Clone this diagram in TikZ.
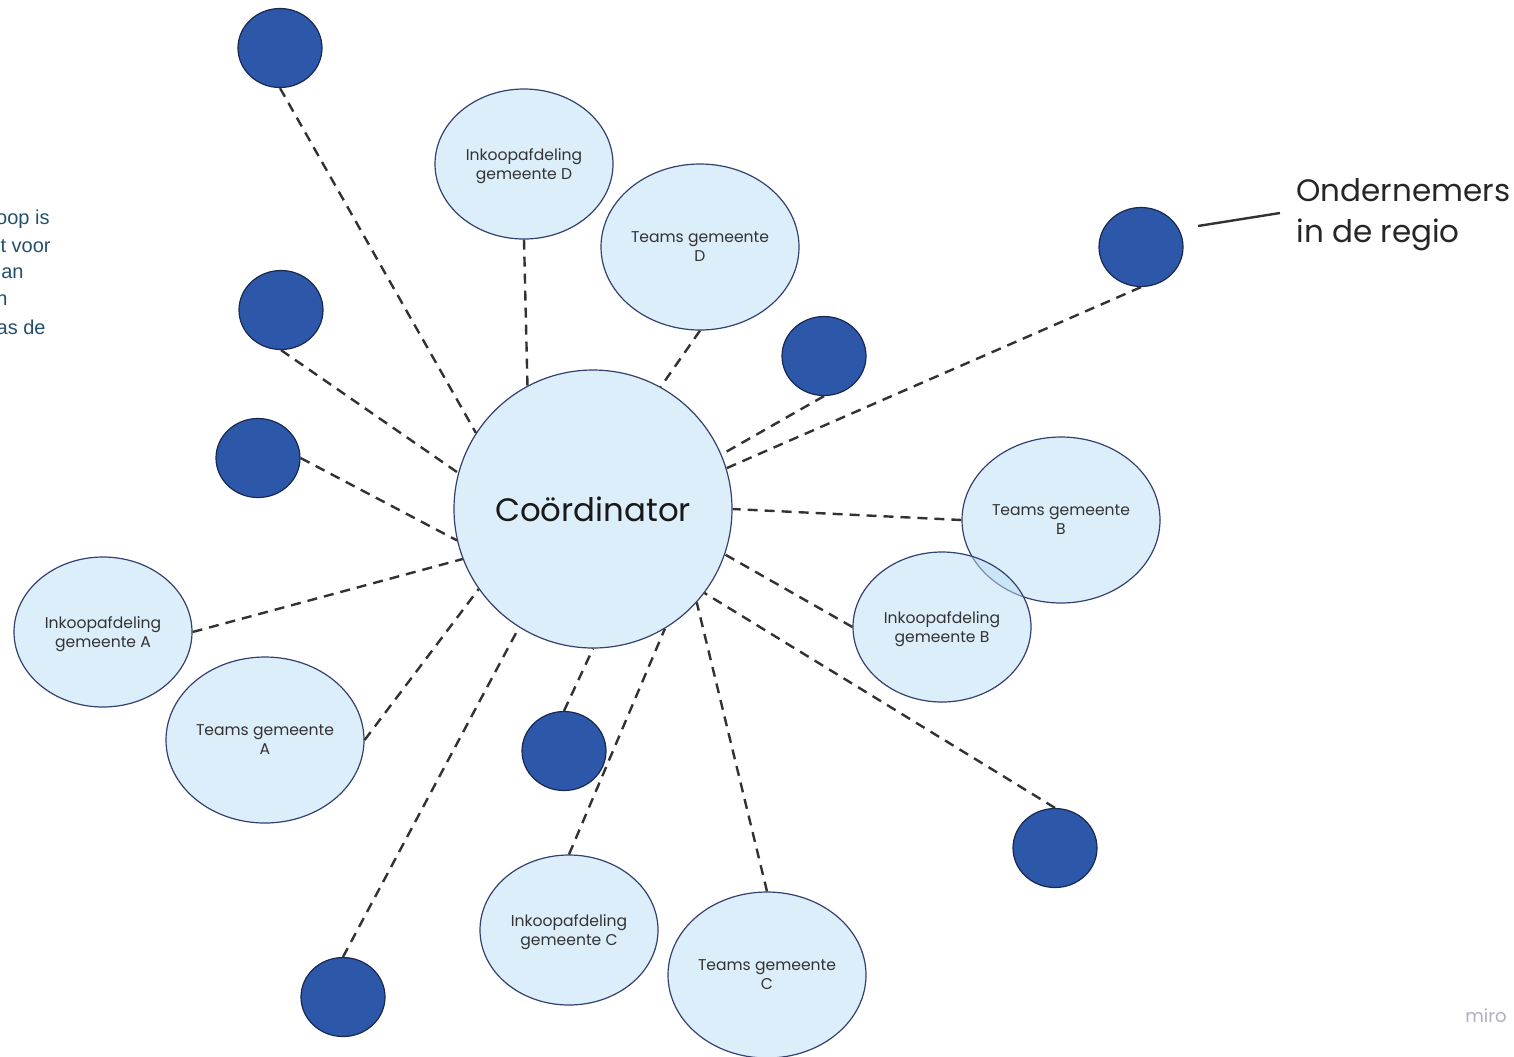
\documentclass[tikz,border=0pt]{standalone}
\usepackage{fontspec}
\setmainfont{Poppins}
\newfontfamily\notefont{Liberation Sans}
\usetikzlibrary{shapes.geometric}
\definecolor{bubblefill}{RGB}{185,221,243}
\definecolor{hubfill}{RGB}{220,238,249}
\definecolor{bubbleline}{RGB}{52,64,110}
\definecolor{dotfill}{RGB}{45,87,168}
\definecolor{dotline}{RGB}{25,40,80}
\definecolor{linkgray}{RGB}{50,50,50}
\definecolor{notecolor}{RGB}{36,80,110}
\definecolor{logogray}{RGB}{175,175,190}

\begin{document}
\begin{tikzpicture}[x=0.5pt, y=-0.5pt,
    bubble/.style={ellipse, draw=bubbleline, line width=0.6pt, fill=bubblefill,
        fill opacity=0.5, text opacity=1, inner sep=0pt, align=center,
        text=black!80, font=\fontsize{7.8}{9.5}\selectfont, text depth=-1pt},
    ink/.style={bubble, minimum width=89pt, minimum height=75pt},
    teams/.style={bubble, minimum width=99pt, minimum height=83pt},
    dot/.style={ellipse, draw=dotline, line width=0.6pt, fill=dotfill,
        minimum width=42pt, minimum height=39.5pt, inner sep=0pt},
    link/.style={dashed, dash pattern=on 5pt off 3.5pt, line width=1.2pt, draw=linkgray}]

    % Frame:
    \useasboundingbox (0,0) rectangle (1514,1056);
    \clip (0,0) rectangle (1514,1056);

    % Note at the left edge:
    \foreach \i/\x/\y/\t in {1/50/219/oop is, 2/51/246/t voor, 3/24/273/an,
                             4/8/300/n, 5/46/327/as de}
        \node[anchor=east, inner sep=0pt, text=notecolor,
              font=\notefont\fontsize{10}{13.5}\selectfont] (note-\i) at (\x,\y) {\t};

    % Centre:
    \node[bubble, circle, minimum size=139pt, fill=hubfill, fill opacity=1, text depth=0pt,
          text=black!90, font=\fontsize{16.2}{19}\selectfont] (hub) at (593,509) {Coördinator};

    % Departments and teams:
    \node[ink] (inkD) at (524,164) {Inkoopafdeling\\gemeente D};
    \node[teams] (teamsD) at (700,247) {Teams gemeente\\D};
    \node[teams] (teamsB) at (1061,520) {Teams gemeente\\B};
    \node[ink] (inkB) at (942,627) {Inkoopafdeling\\gemeente B};
    \node[ink] (inkA) at (103,632) {Inkoopafdeling\\gemeente A};
    \node[teams] (teamsA) at (265,740) {Teams gemeente\\A};
    \node[ink] (inkC) at (569,930) {Inkoopafdeling\\gemeente C};
    \node[teams] (teamsC) at (767,975) {Teams gemeente\\C};

    % Entrepreneurs:
    \node[dot] (dot1) at (280,48) {};
    \node[dot] (dot2) at (281,310) {};
    \node[dot] (dot3) at (258,458) {};
    \node[dot] (dot4) at (824,356) {};
    \node[dot] (dot5) at (1141,247) {};
    \node[dot] (dot6) at (564,751) {};
    \node[dot] (dot7) at (1055,848) {};
    \node[dot] (dot8) at (343,997) {};

    % Connections:
    \draw[link] (dot1.south) -- (hub.147);
    \draw[link] (inkD.south) -- (hub.118);
    \draw[link] (teamsD.south) -- (hub.61);
    \draw[link] (dot4.south) -- (hub.23);
    \draw[link] (dot5.south) -- (hub.17);
    \draw[link] (dot2.south) -- (hub.165);
    \draw[link] (dot3.east) -- (hub.193);
    \draw[link] (teamsB.west) -- (hub.0);
    \draw[link] (inkB.west) -- (hub.341);
    \draw[link] (dot7.north) -- (hub.323);
    \draw[link] (inkA.east) -- (hub.201);
    \draw[link] (teamsA.east) -- (hub.215);
    \draw[link] (dot8.north) -- (hub.238);
    \draw[link] (dot6.north) -- (hub.270);
    \draw[link] (inkC.north) -- (hub.301);
    \draw[link] (teamsC.north) -- (hub.318);

    % Label:
    \coordinate (tag) at (1280,213);
    \draw[line width=1.2pt, draw=linkgray] (1198,226) -- (tag);
    \node[anchor=west, align=left, inner sep=0pt, text=black!85,
          font=\fontsize{15.5}{20.5}\selectfont] (ondernemers) at (1296,215) {Ondernemers\\in de regio};

    % Logo:
    \node[text=logogray, font=\fontsize{9}{10}\selectfont] (logo) at (1486,1016) {miro};
\end{tikzpicture}
\end{document}
